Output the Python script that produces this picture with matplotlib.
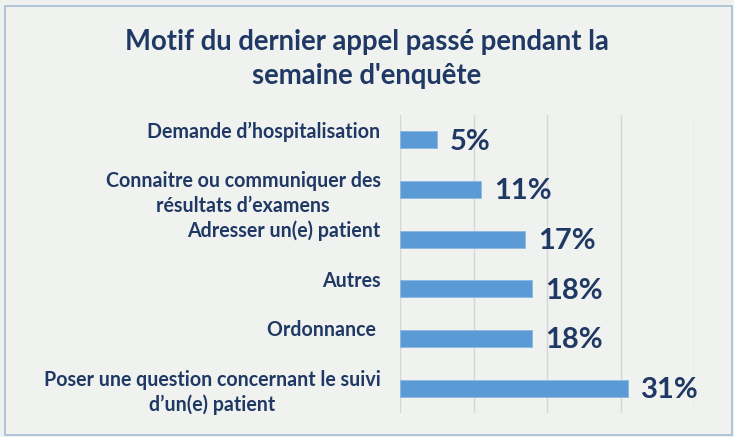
import numpy as np
import matplotlib.pyplot as plt

# data, top to bottom
categories = [
    "Demande d\u2019hospitalisation\n",
    "Connaitre ou communiquer des\nr\u00e9sultats d\u2019examens",
    "Adresser un(e) patient\n",
    "Autres\n",
    "Ordonnance \n",
    "Poser une question concernant le suivi\nd\u2019un(e) patient",
]
values = [5, 11, 17, 18, 18, 31]
value_labels = ["5%", "11%", "17%", "18%", "18%", "31%"]
title = "Motif du dernier appel pass\u00e9 pendant la\nsemaine d'enqu\u00eate"

NAVY = "#1f3864"
BAR = "#5b9bd5"
BG = "#f0f2ef"

plt.rcParams['font.family'] = ['Lato', 'DejaVu Sans']

fig = plt.figure(figsize=(7.34, 4.37), dpi=100, facecolor=BG)
ax = fig.add_axes([0.545, 0.055, 0.4005, 0.682])
ax.set_facecolor(BG)

# frame round the chart
fig.patches.append(plt.Rectangle((0.007, 0.005), 0.99, 0.981, transform=fig.transFigure,
                                 fill=False, edgecolor="#a4bcd4", linewidth=1.2))

y = np.arange(len(categories))
ax.barh(y, values, height=0.34, color=BAR, edgecolor="#8fb8e0", linewidth=0.6, zorder=3)
for yi, v, lab in zip(y, values, value_labels):
    ax.text(v + 1.8, yi + 0.04, lab, va="center", ha="left", fontsize=21, fontweight="bold",
            color=NAVY)

ax.set_xlim(0, 40)
ax.set_ylim(len(categories) - 0.5, -0.5)
ax.set_xticks([0, 10, 20, 30, 40])
ax.set_xticklabels([])
ax.xaxis.grid(True, color="#d6d6d6", linewidth=1)
ax.tick_params(axis="both", length=0)
ax.set_yticks(y)
ax.set_yticklabels(categories, fontsize=14.1, fontweight="bold", color=NAVY,
                   linespacing=1.3)
for lbl in ax.get_yticklabels():
    lbl.set_multialignment("center")
ax.tick_params(axis="y", pad=14)
for s in ax.spines.values():
    s.set_visible(False)

fig.text(0.5, 0.865, title, ha="center", va="center", fontsize=19.8, fontweight="bold",
         color=NAVY, linespacing=1.4)

fig.savefig("out.png", dpi=100, facecolor=BG)
